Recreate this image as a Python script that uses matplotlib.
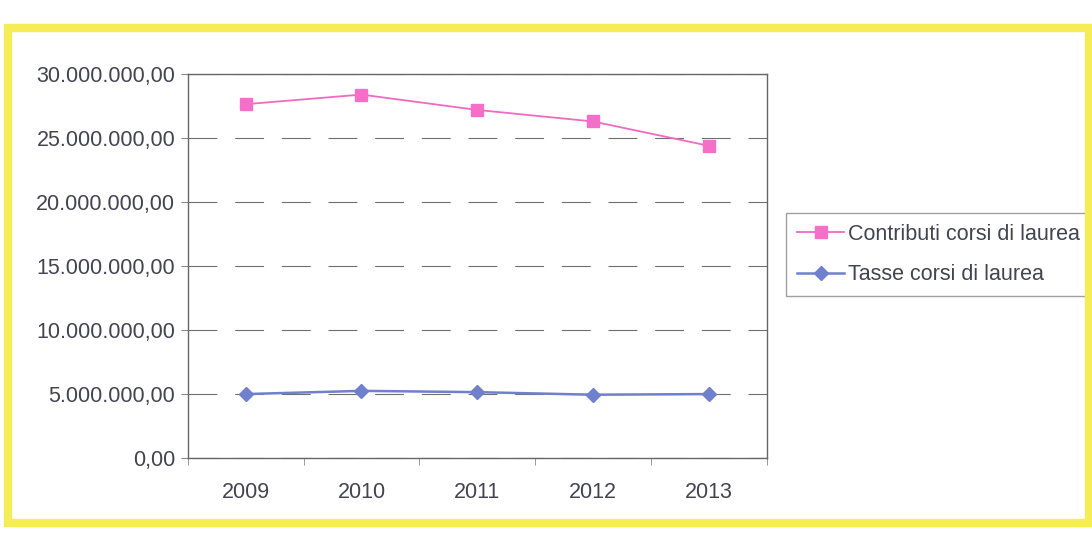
import matplotlib.pyplot as plt
from matplotlib.patches import Rectangle
from matplotlib.ticker import FuncFormatter

# ===== data =====
years = ["2009", "2010", "2011", "2012", "2013"]
contributi = [27650000, 28400000, 27200000, 26300000, 24400000]
tasse = [5000000, 5250000, 5150000, 4950000, 5000000]
y_ticks = [0, 5000000, 10000000, 15000000, 20000000, 25000000, 30000000]

plt.rcParams["font.family"] = ["Liberation Sans", "DejaVu Sans"]
TXT = "#444450"
FS = 15.5


def it_fmt(v, pos):
    s = f"{v:,.2f}"
    return s.replace(",", "X").replace(".", ",").replace("X", ".")


fig = plt.figure(figsize=(10.92, 5.37), dpi=100)
fig.patch.set_facecolor("white")

# yellow chart frame
fig.patches.append(Rectangle((0.007, 0.027), 0.990, 0.92, transform=fig.transFigure,
                             fill=False, edgecolor="#f6ec55", linewidth=6, zorder=0))

ax = fig.add_axes([0.172, 0.147, 0.530, 0.715])
x = list(range(len(years)))

ax.plot(x, contributi, color="#f06ac4", linewidth=1.3, marker="s", markersize=8,
        markerfacecolor="#f36fc8", markeredgecolor="#f36fc8", label="Contributi corsi di laurea")
ax.plot(x, tasse, color="#6f80cc", linewidth=1.8, marker="D", markersize=7,
        markerfacecolor="#6f80cc", markeredgecolor="#6f80cc", label="Tasse corsi di laurea")

ax.set_xlim(-0.5, len(years) - 0.5)
ax.set_ylim(0, 30000000)
ax.set_yticks(y_ticks)
ax.yaxis.set_major_formatter(FuncFormatter(it_fmt))
ax.grid(axis="y", color="#707070", linestyle=(0, (26, 16)), linewidth=0.8)

ax.set_xticks(x)
ax.set_xticklabels(years)
ax.set_xticks([i - 0.5 for i in range(len(years) + 1)], minor=True)
ax.tick_params(axis="x", which="major", length=0, pad=17, labelsize=FS, labelcolor=TXT)
ax.tick_params(axis="x", which="minor", length=5, color="#888888")
ax.tick_params(axis="y", length=5, color="#888888", labelsize=FS, labelcolor=TXT, pad=4)

for sp in ax.spines.values():
    sp.set_color("#666666")
    sp.set_linewidth(1.0)

leg = ax.legend(loc="center left", bbox_to_anchor=(1.034, 0.53), frameon=True, fancybox=False,
                fontsize=FS, handlelength=2.2, handletextpad=0.15, borderpad=0.5,
                labelspacing=0.9, borderaxespad=0)
leg.get_frame().set_edgecolor("#888888")
leg.get_frame().set_linewidth(1.0)
for t in leg.get_texts():
    t.set_color(TXT)

plt.savefig("out.png", dpi=100)
plt.close(fig)
